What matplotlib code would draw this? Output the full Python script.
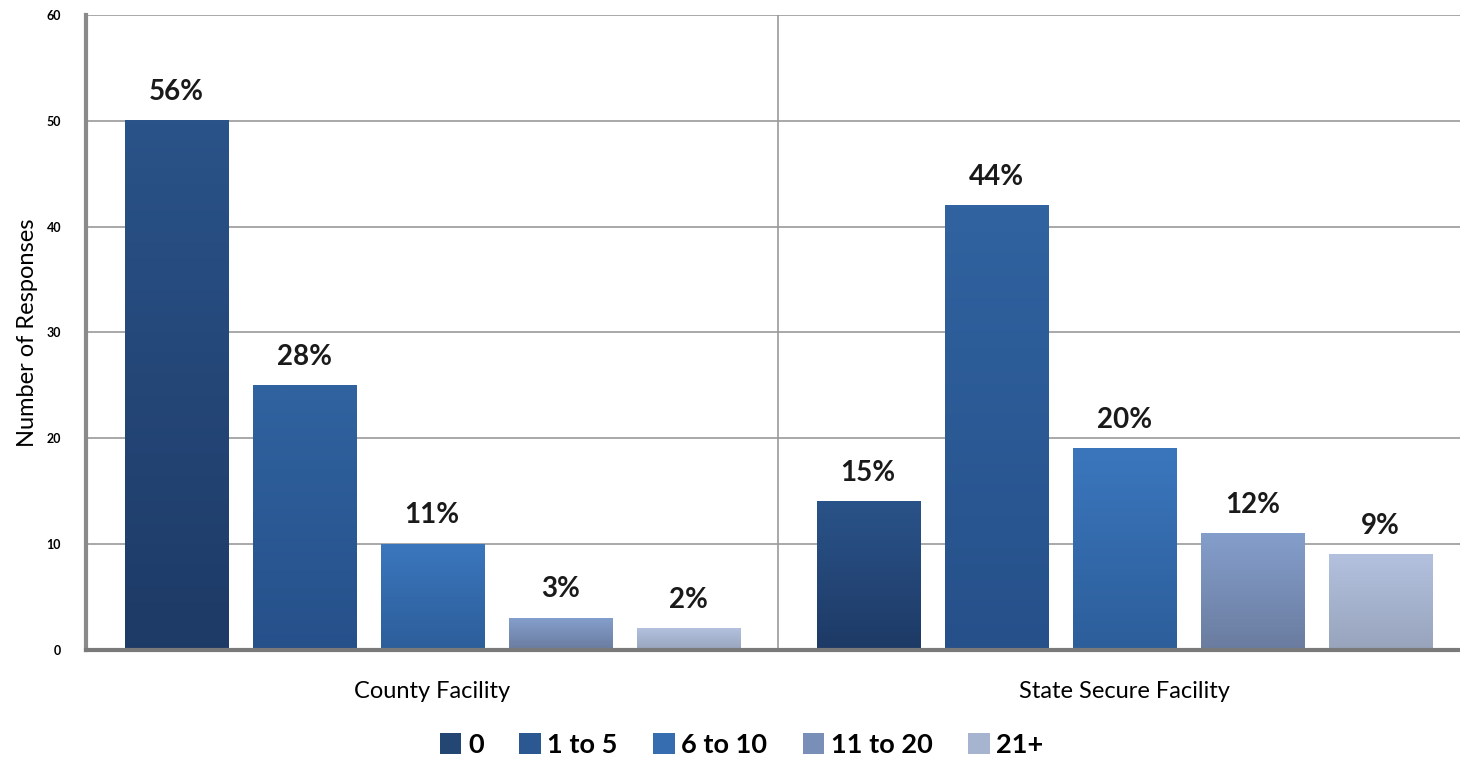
import numpy as np
import matplotlib.pyplot as plt
from matplotlib.colors import LinearSegmentedColormap
from matplotlib.patches import Patch

plt.rcParams['font.family'] = ['Lato', 'DejaVu Sans']

categories = ["County Facility", "State Secure Facility"]
series = ["0", "1 to 5", "6 to 10", "11 to 20", "21+"]
county = [50, 25, 10, 3, 2]
state = [14, 42, 19, 11, 9]
county_pct = ["56%", "28%", "11%", "3%", "2%"]
state_pct = ["15%", "44%", "20%", "12%", "9%"]

# (bottom colour, top colour) per series
grad = [("#1e3a66", "#2a5389"),
        ("#26508a", "#3063a0"),
        ("#2c5e9a", "#3b76bd"),
        ("#6a7c9f", "#849ecb"),
        ("#98a4bc", "#b3c1df")]
legend_cols = ["#234672", "#2b5890", "#366cb0", "#7a8fb8", "#a7b4d0"]

fig = plt.figure(figsize=(14.6, 7.58), dpi=100)
ax = fig.add_axes([0.059, 0.1425, 0.948, 0.8377])

x = np.arange(len(categories))
step = 0.185
width = 0.149
vals = [county, state]
pcts = [county_pct, state_pct]

for ci in range(len(categories)):
    for si in range(len(series)):
        h = vals[ci][si]
        xc = x[ci] + (si - 2) * step
        cmap = LinearSegmentedColormap.from_list("g", grad[si])
        g = np.linspace(0, 1, 100).reshape(-1, 1)
        ax.imshow(g, cmap=cmap, origin="lower", aspect="auto",
                  extent=[xc - width / 2, xc + width / 2, 0, h], zorder=3)
        ax.text(xc, h + 1.5, pcts[ci][si], ha="center", va="bottom",
                fontsize=20, fontweight="bold", color="#1a1a1a", zorder=4)

ax.set_xlim(-0.5, 1.5)
ax.set_ylim(0, 60)
ax.set_yticks(range(0, 61, 10))
ax.set_yticklabels([str(v) for v in range(0, 61, 10)], fontsize=9, fontweight="bold")
ax.grid(axis="y", color="#9a9a9a", linewidth=1.2, zorder=1)
ax.axvline(0.5, color="#9a9a9a", linewidth=1.2, zorder=1)
ax.set_xticks(x)
ax.set_xticklabels(categories, fontsize=17)
ax.tick_params(axis="x", length=0, pad=22)
ax.tick_params(axis="y", length=0, pad=18)
ax.set_ylabel("Number of Responses", fontsize=17, labelpad=6)

for s in ["top", "right"]:
    ax.spines[s].set_visible(False)
ax.spines["left"].set_color("#8a8a8a")
ax.spines["left"].set_linewidth(3)
ax.spines["bottom"].set_color("#7a7a7a")
ax.spines["bottom"].set_linewidth(3)
ax.spines["bottom"].set_zorder(5)

handles = [Patch(facecolor=c, edgecolor="none") for c in legend_cols]
fig.legend(handles, series, loc="center", bbox_to_anchor=(0.508, 0.017),
           ncol=5, frameon=False, handlelength=0.8, handleheight=0.8,
           handletextpad=0.25, columnspacing=1.3,
           prop={"size": 19.5, "weight": "bold"})

fig.savefig("out.png", dpi=100)
